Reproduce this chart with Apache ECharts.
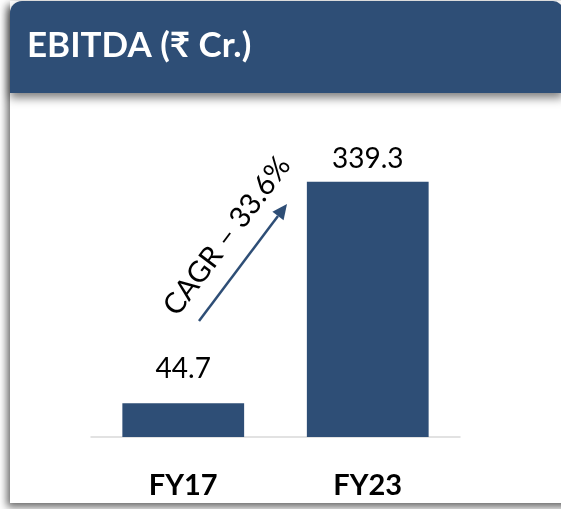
<!DOCTYPE html>
<html>
<head>
<meta charset="utf-8">
<script src="https://cdn.jsdelivr.net/npm/echarts@6/dist/echarts.min.js"></script>
<style>
html,body{margin:0;padding:0;background:#fff;}
#c{width:561px;height:509px;}
</style>
</head>
<body>
<div id="c"></div>
<script>
var categories = ['FY17', 'FY23'];
var ebitda = [44.7, 339.3];
var titleText = 'EBITDA (\u20B9 Cr.)';
var cagrText = 'CAGR \u2013 33.6%';

var NAVY = '#2E4E76';
var chart = echarts.init(document.getElementById('c'), null, {renderer: 'canvas'});

// arrow geometry (annotation)
var ax0 = 199, ay0 = 321, ax1 = 287, ay1 = 204;
var ang = Math.atan2(ay1 - ay0, ax1 - ax0);
var headLen = 15, headW = 7;
var bx = ax1 - headLen * Math.cos(ang), by = ay1 - headLen * Math.sin(ang);
var px = -Math.sin(ang), py = Math.cos(ang);

var labelDist = [20, 9];
var barData = ebitda.map(function (v, i) {
  return {value: v, label: {distance: labelDist[i]}};
});

var option = {
  animation: false,
  backgroundColor: '#fff',
  grid: {left: 91, right: 101, top: 136, bottom: 72, containLabel: false},
  xAxis: {
    type: 'category',
    data: categories,
    axisLine: {show: true, lineStyle: {color: '#D9D9D9', width: 1.5}},
    axisTick: {show: false},
    axisLabel: {color: '#000', fontFamily: 'Lato', fontWeight: 'bold', fontSize: 29, margin: 34}
  },
  yAxis: {
    type: 'value', min: 0, max: 400,
    show: false,
    splitLine: {show: false}
  },
  series: [{
    type: 'bar',
    data: barData,
    barCategoryGap: '34%',
    itemStyle: {color: NAVY},
    label: {show: true, position: 'top', color: '#000', fontFamily: 'Lato', fontSize: 28,
      formatter: function (p) { return p.value.toFixed(1); }}
  }],
  graphic: [
    {type: 'rect', z: -10, shape: {x: 10, y: 1, width: 570, height: 502},
      style: {fill: '#fff', shadowBlur: 8, shadowColor: 'rgba(0,0,0,0.6)', shadowOffsetX: -3, shadowOffsetY: 4}},
    {type: 'rect', z: -5, shape: {x: 10, y: 1, width: 553, height: 92, r: [12, 10, 0, 0]},
      style: {fill: NAVY, shadowBlur: 10, shadowColor: 'rgba(0,0,0,0.5)', shadowOffsetY: 5}},
    {type: 'text', z: 10, left: 27, top: 28,
      style: {text: titleText, fill: '#fff', font: 'bold 35px Lato, "Noto Sans", sans-serif'}},
    {type: 'line', z: 10, shape: {x1: ax0, y1: ay0, x2: bx, y2: by},
      style: {stroke: NAVY, lineWidth: 2.5}},
    {type: 'polygon', z: 10, shape: {points: [[ax1, ay1], [bx + px * headW, by + py * headW], [bx - px * headW, by - py * headW]]},
      style: {fill: NAVY}},
    {type: 'text', z: 10, x: 227, y: 236, rotation: 53 * Math.PI / 180,
      style: {text: cagrText, fill: '#000', font: '29px Lato, "Noto Sans", sans-serif', align: 'center', verticalAlign: 'middle'}}
  ]
};
chart.setOption(option);
</script>
</body>
</html>
